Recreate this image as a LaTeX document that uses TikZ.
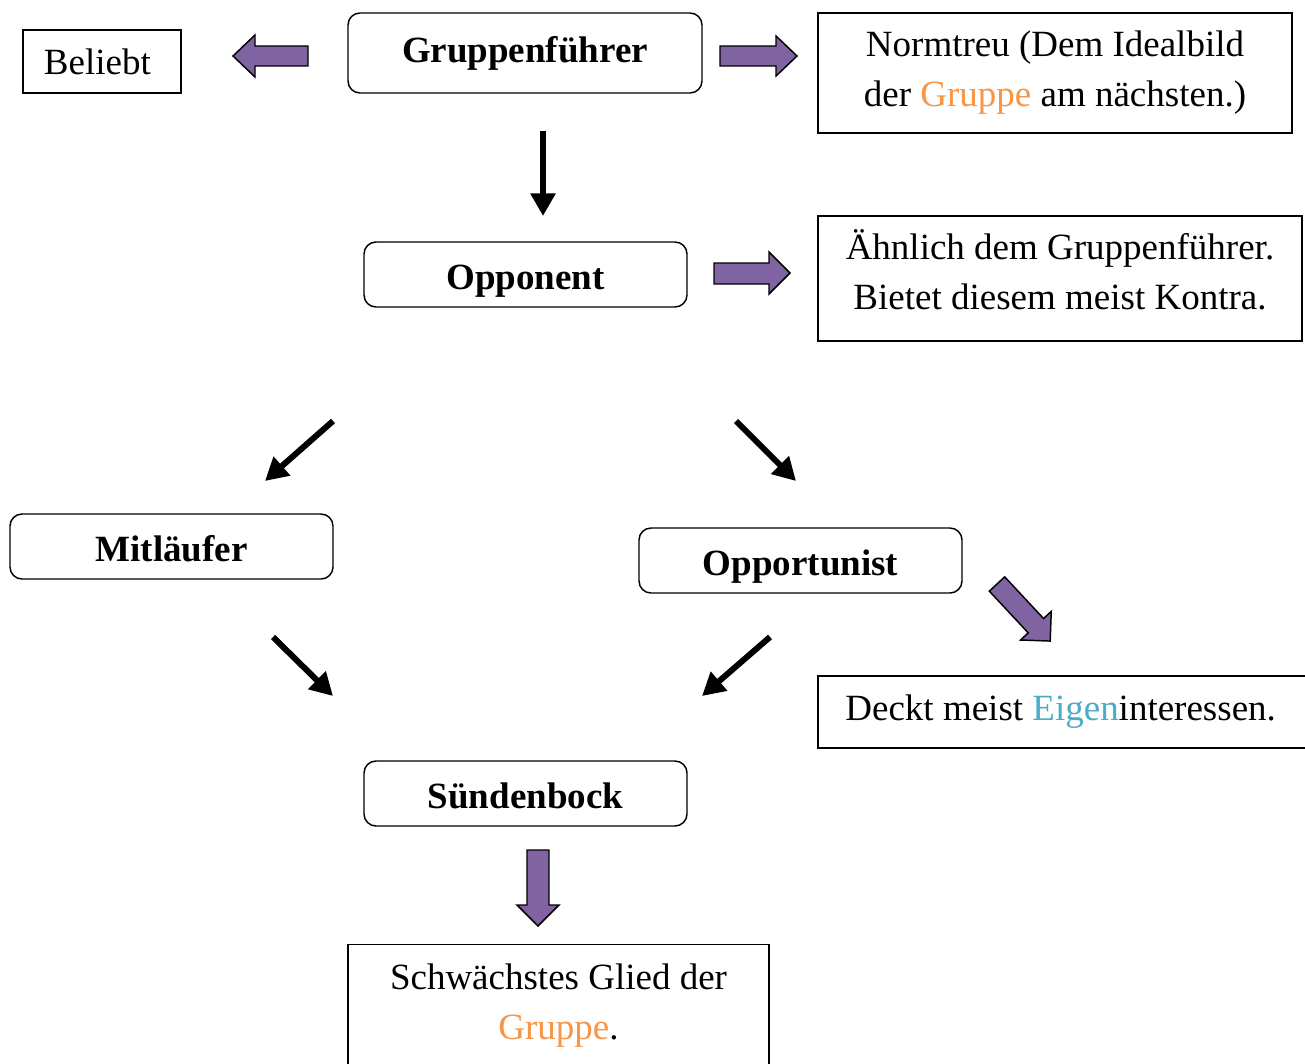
\documentclass[tikz,border=0pt]{standalone}
\usepackage{fontspec}
\setmainfont{Liberation Serif}
\usetikzlibrary{arrows.meta}
\definecolor{arrowpurple}{HTML}{8064A2}
\definecolor{accorange}{HTML}{F79646}
\definecolor{accblue}{HTML}{4BACC6}
\begin{document}
\begin{tikzpicture}[x=0.75pt,y=-0.75pt,
  txt/.style={font=\fontsize{27.75}{37.5}\selectfont, align=center},
  plainbox/.style={draw, line width=1.1pt, txt, inner sep=0pt},
  roundbase/.style={draw, line width=1.1pt, rounded corners=9pt, align=center, inner sep=0pt,
    font=\fontsize{27.75}{37.5}\selectfont\bfseries},
  roundbox/.style={roundbase, minimum width=242.25pt, minimum height=48.75pt,
    text height=29pt, text depth=6.5pt},
  blackarrow/.style={line width=4.5pt, -{Triangle[width=18pt,length=17pt]}},
  blockarrow/.style={fill=arrowpurple, draw=black, line width=1.1pt, line join=miter}
]
\useasboundingbox (0,0) rectangle (1305,1063);
\fill[white] (0,0) rectangle (1305,1063);

% boxes
\node (beliebt) [plainbox, minimum width=118.5pt, minimum height=47.25pt] at (102,61.5) {Beliebt\kern7pt};
\node (fuehrer) [roundbase, minimum width=265.5pt, minimum height=60pt] at (525,53) {Gruppenführer};
\node (normtreu) [plainbox, minimum width=355.5pt, minimum height=90pt] at (1055,73)
  {Normtreu (Dem Idealbild\\der \textcolor{accorange}{Gruppe} am nächsten.)};
\node (opponent) [roundbox] at (525.5,274.5) {Opponent};
\node (aehnlich) [plainbox, minimum width=363pt, minimum height=93.75pt, text depth=13.5pt] at (1060,278.5)
  {Ähnlich dem Gruppenführer.\\Bietet diesem meist Kontra.};
\node (mitlaeufer) [roundbox] at (171.5,546.5) {Mitläufer};
\node (opportunist) [roundbox] at (800.5,560.5) {Opportunist};
\node (deckt) [plainbox, minimum width=369pt, minimum height=54pt] at (1064,712)
  {Deckt meist \textcolor{accblue}{Eigen}interessen.\kern5pt};
\node (suenden) [roundbox] at (525.5,793.5) {Sündenbock};
\node (schwach) [plainbox, minimum width=315.75pt, minimum height=91.5pt, anchor=north] at (558.5,944)
  {Schwächstes Glied der\\\textcolor{accorange}{Gruppe}.};

% black arrows
\coordinate (d1s) at (543,131); \coordinate (d1e) at (543,216);
\coordinate (l1s) at (333,421); \coordinate (l1e) at (265,481);
\coordinate (r1s) at (736,421); \coordinate (r1e) at (796,481);
\coordinate (r2s) at (273,637); \coordinate (r2e) at (333,696);
\coordinate (l2s) at (770,637); \coordinate (l2e) at (702,696);
\draw[blackarrow] (d1s) -- (d1e);
\draw[blackarrow] (l1s) -- (l1e);
\draw[blackarrow] (r1s) -- (r1e);
\draw[blackarrow] (r2s) -- (r2e);
\draw[blackarrow] (l2s) -- (l2e);

% purple block arrows
\draw[blockarrow] (308,46) -- (255,46) -- (255,35) -- (233,56) -- (255,77) -- (255,66) -- (308,66) -- cycle;
\draw[blockarrow] (720,46) -- (776,46) -- (776,36) -- (797,56) -- (776,76) -- (776,66) -- (720,66) -- cycle;
\draw[blockarrow] (714,263) -- (769,263) -- (769,252) -- (790,273) -- (769,294) -- (769,284) -- (714,284) -- cycle;
\draw[blockarrow] (527,850) -- (549,850) -- (549,905) -- (559,905) -- (538,926) -- (517,905) -- (527,905) -- cycle;
\begin{scope}[shift={(997,584)}, rotate=-47]
\draw[blockarrow] (0,-10.5) -- (57,-10.5) -- (57,-21) -- (78,0) -- (57,21) -- (57,10.5) -- (0,10.5) -- cycle;
\end{scope}
\end{tikzpicture}
\end{document}
